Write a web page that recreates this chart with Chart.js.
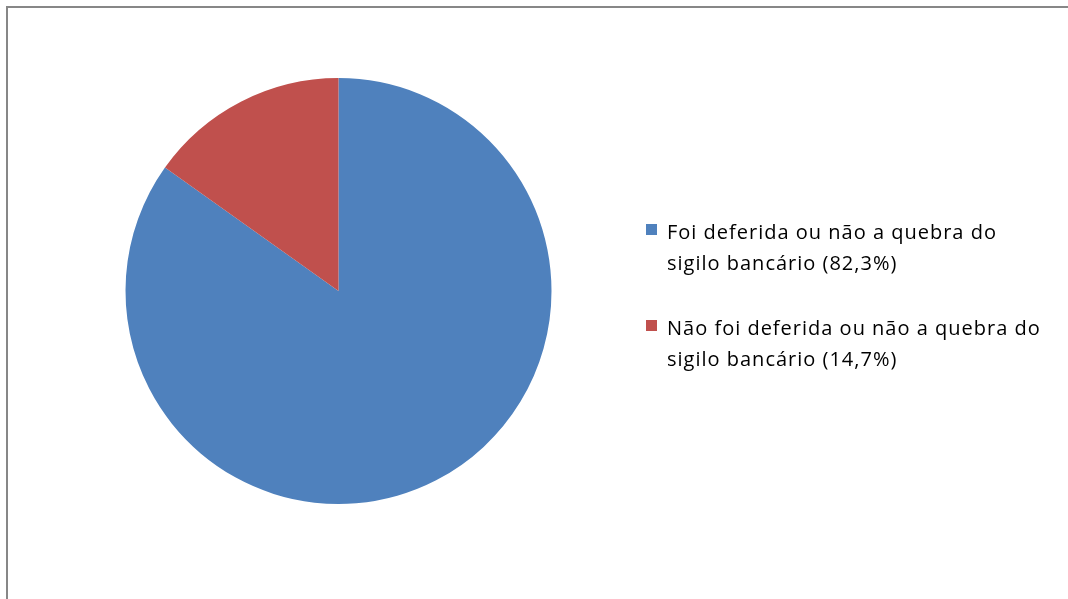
<!DOCTYPE html>
<html>
<head>
<meta charset="utf-8">
<script src="https://cdn.jsdelivr.net/npm/chart.js@4.4.0/dist/chart.umd.min.js"></script>
<style>
  html, body { margin: 0; padding: 0; background: #fff; }
  #wrap { position: relative; width: 1068px; height: 599px; overflow: hidden; }
  #frame { position: absolute; left: 6px; top: 6px; width: 1100px; height: 700px;
           border-left: 2px solid #878787; border-top: 2px solid #878787; }
  #mychart { position: absolute; left: 0; top: 0; }
</style>
</head>
<body>
<div id="wrap">
  <div id="frame"></div>
  <canvas id="mychart" width="1068" height="599"></canvas>
</div>
<script>
// categories (each one split in two lines, as in the legend)
var categories = [
    ['Foi deferida ou não a quebra do', 'sigilo bancário'],
    ['Não foi deferida ou não a quebra do', 'sigilo bancário']
];
var percents = [82.3, 14.7];
var colors = ['#4F81BD', '#C0504D'];

function pctText(v) {
    return '(' + v.toFixed(1).replace('.', ',') + '%)';
}

// legend drawn on the right with wrapped lines
var sideLegend = {
    id: 'sideLegend',
    afterDraw: function(chart) {
        var ctx = chart.ctx;
        var ds = chart.data.datasets[0];
        ctx.save();
        ctx.font = '20px "Open Sans", sans-serif';
        ctx.letterSpacing = '1px';
        ctx.fillStyle = '#000';
        ctx.textBaseline = 'alphabetic';
        var x = 646, y = 239;
        chart.data.labels.forEach(function(lab, i) {
            var lines = lab.slice();
            lines[lines.length - 1] += ' ' + pctText(ds.data[i]);
            ctx.fillStyle = ds.backgroundColor[i];
            ctx.fillRect(x, y - 15, 11, 11);
            ctx.fillStyle = '#000';
            lines.forEach(function(t, k) {
                ctx.fillText(t, x + 21, y + k * 31);
            });
            y += 96;
        });
        ctx.restore();
    }
};

var mychart = document.getElementById('mychart').getContext('2d');
var chart = new Chart(mychart, {
    type: 'pie',
    data: {
        labels: categories,
        datasets: [{
            data: percents,
            backgroundColor: colors,
            borderWidth: 0
        }]
    },
    options: {
        responsive: false,
        animation: false,
        layout: { padding: { left: 125, right: 516, top: 78, bottom: 95 } },
        plugins: {
            legend: { display: false },
            tooltip: { enabled: false }
        }
    },
    plugins: [sideLegend]
});
</script>
</body>
</html>
